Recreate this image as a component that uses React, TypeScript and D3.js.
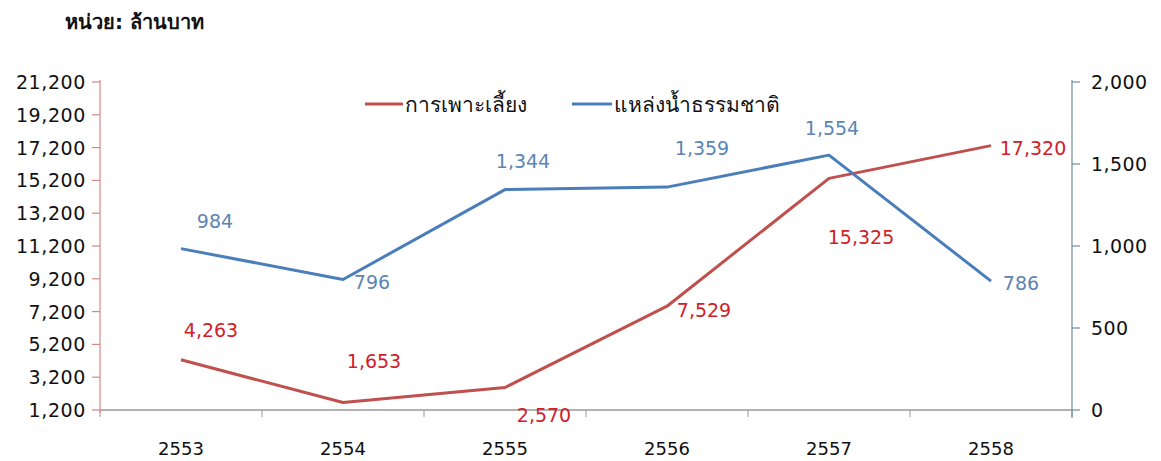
import * as React from 'react';
import * as d3 from 'd3';

const years = ['2553', '2554', '2555', '2556', '2557', '2558'];
const cultureValues = [4263, 1653, 2570, 7529, 15325, 17320];
const naturalValues = [984, 796, 1344, 1359, 1554, 786];
const leftTicks = [1200, 3200, 5200, 7200, 9200, 11200, 13200, 15200, 17200, 19200, 21200];
const rightTicks = [0, 500, 1000, 1500, 2000];
const seriesNames = ['การเพาะเลี้ยง', 'แหล่งน้ำธรรมชาติ'];

// label nudges (px) for each data label, as placed in the original
const cultureLabelOffset = [[30, -30], [31, -42], [39, 27], [37, 4], [32, 59], [42, 2]];
const naturalLabelOffset = [[34, -28], [29, 3], [18, -29], [35, -39], [3, -27], [30, 2]];

const redLine = '#C0504D';
const blueLine = '#4A7EBB';
const redText = '#D0202A';
const blueText = '#5B85B5';
const font = "'DejaVu Sans', 'Noto Sans', sans-serif";

const App = () => {
  const width = 1161;
  const height = 461;
  const left = 100;
  const right = 1072;
  const top = 82;
  const bottom = 410;

  const x = d3.scaleBand<string>().domain(years).range([left, right]);
  const cx = (d: string) => (x(d) as number) + x.bandwidth() / 2;
  const yL = d3.scaleLinear().domain([1200, 21200]).range([bottom, top]);
  const yR = d3.scaleLinear().domain([0, 2000]).range([bottom, top]);
  const fmt = d3.format(',');

  const cultureLine = d3
    .line<number>()
    .x((_, i) => cx(years[i]))
    .y((d) => yL(d));
  const naturalLine = d3
    .line<number>()
    .x((_, i) => cx(years[i]))
    .y((d) => yR(d));

  const bounds = years.map((d) => x(d) as number).concat([right]);

  return (
    <div style={{ position: 'absolute', left: 0, top: 0 }}>
      <svg width={width} height={height} style={{ display: 'block', background: '#fff' }} fontFamily={font}>
        <text x={65} y={29} fontSize={20} fontWeight="bold" fill="#111">
          หน่วย: ล้านบาท
        </text>

        {/* x axis */}
        <line x1={left} x2={right} y1={bottom} y2={bottom} stroke="#999" strokeWidth={1.5} />
        {bounds.map((b, i) => (
          <line key={'xt' + i} x1={b} x2={b} y1={bottom} y2={bottom + 7} stroke="#999" strokeWidth={1} />
        ))}
        {years.map((d) => (
          <text key={d} x={cx(d)} y={455} textAnchor="middle" fontSize={18} fill="#111">
            {d}
          </text>
        ))}

        {/* left axis */}
        <line x1={left} x2={left} y1={top - 2} y2={bottom + 3} stroke="#D9868A" strokeWidth={1.2} />
        {leftTicks.map((t) => (
          <g key={'l' + t}>
            <line x1={left - 8} x2={left} y1={yL(t)} y2={yL(t)} stroke="#D9868A" strokeWidth={1.2} />
            <text x={86} y={yL(t) + 7} textAnchor="end" fontSize={19} letterSpacing={0.6} fill="#111">
              {fmt(t)}
            </text>
          </g>
        ))}

        {/* right axis */}
        <line x1={right} x2={right} y1={top - 2} y2={bottom + 8} stroke="#6E8CA8" strokeWidth={1.2} />
        {rightTicks.map((t) => (
          <g key={'r' + t}>
            <line x1={right} x2={right + 8} y1={yR(t)} y2={yR(t)} stroke="#6E8CA8" strokeWidth={1.2} />
            <text x={1091} y={yR(t) + 7} fontSize={19} letterSpacing={0.4} fill="#111">
              {fmt(t)}
            </text>
          </g>
        ))}

        {/* lines */}
        <path d={cultureLine(cultureValues) as string} fill="none" stroke={redLine} strokeWidth={3} strokeLinejoin="round" />
        <path d={naturalLine(naturalValues) as string} fill="none" stroke={blueLine} strokeWidth={3} strokeLinejoin="round" />

        {/* data labels */}
        {cultureValues.map((v, i) => (
          <text
            key={'cl' + i}
            x={cx(years[i]) + cultureLabelOffset[i][0]}
            y={yL(v) + cultureLabelOffset[i][1] + 7}
            textAnchor="middle"
            fontSize={19}
            fill={redText}
          >
            {fmt(v)}
          </text>
        ))}
        {naturalValues.map((v, i) => (
          <text
            key={'nl' + i}
            x={cx(years[i]) + naturalLabelOffset[i][0]}
            y={yR(v) + naturalLabelOffset[i][1] + 7}
            textAnchor="middle"
            fontSize={19}
            fill={blueText}
          >
            {fmt(v)}
          </text>
        ))}

        {/* legend */}
        <line x1={365} x2={403} y1={104} y2={104} stroke={redLine} strokeWidth={3} />
        <text x={405} y={112} fontSize={21} fill="#111">
          {seriesNames[0]}
        </text>
        <line x1={572} x2={612} y1={104} y2={104} stroke={blueLine} strokeWidth={3} />
        <text x={614} y={112} fontSize={21} fill="#111">
          {seriesNames[1]}
        </text>
      </svg>
    </div>
  );
};

export default App;
